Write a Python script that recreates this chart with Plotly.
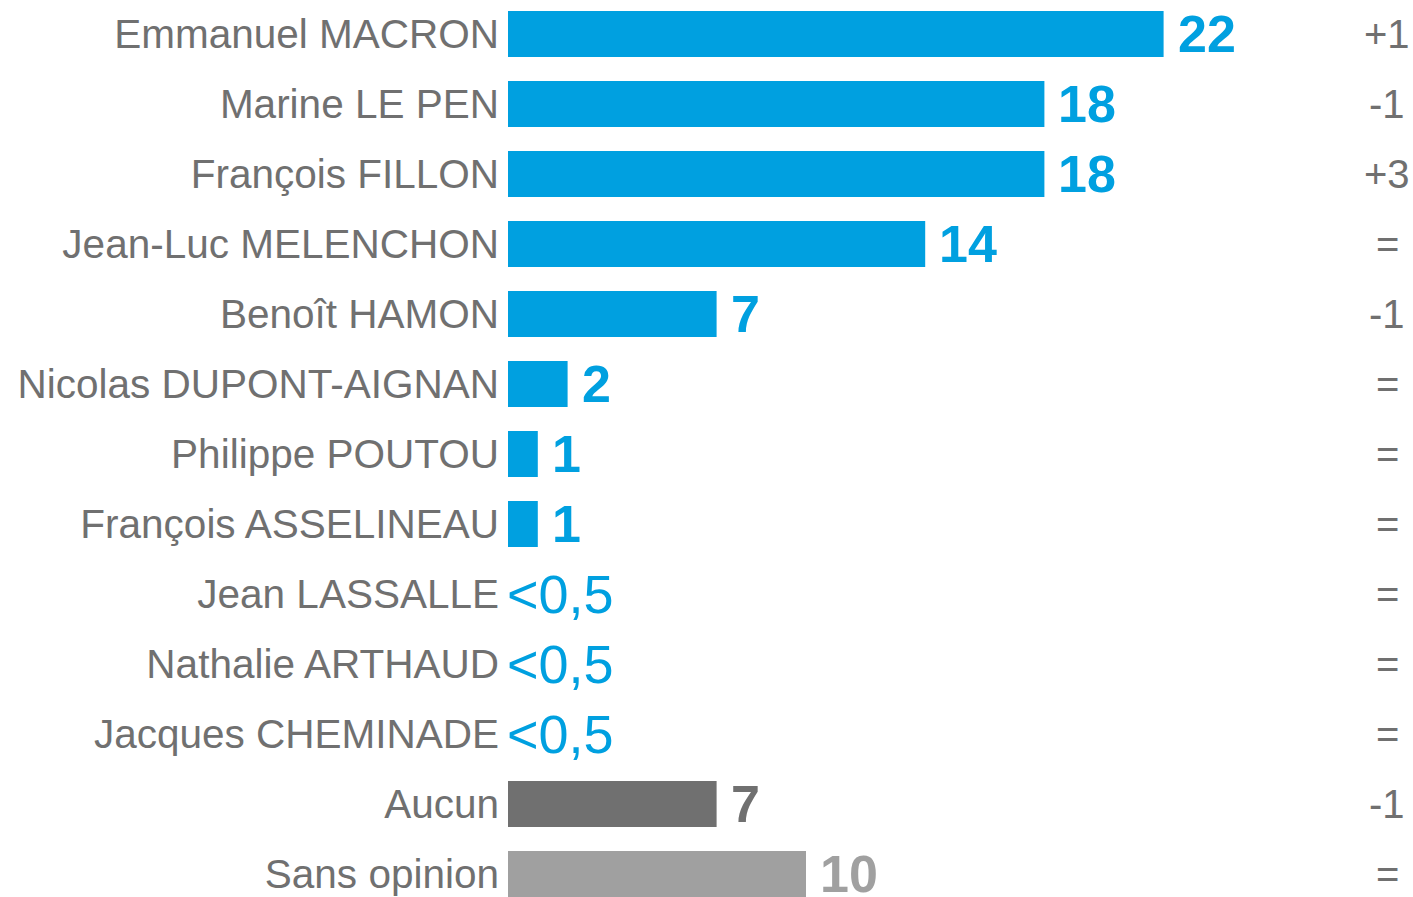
import plotly.graph_objects as go

candidates = ["Emmanuel MACRON", "Marine LE PEN", "François FILLON", "Jean-Luc MELENCHON",
              "Benoît HAMON", "Nicolas DUPONT-AIGNAN", "Philippe POUTOU", "François ASSELINEAU",
              "Jean LASSALLE", "Nathalie ARTHAUD", "Jacques CHEMINADE", "Aucun", "Sans opinion"]
values = [22, 18, 18, 14, 7, 2, 1, 1, 0, 0, 0, 7, 10]
value_labels = ["22", "18", "18", "14", "7", "2", "1", "1", "<0,5", "<0,5", "<0,5", "7", "10"]
changes = ["+1", "-1", "+3", "=", "-1", "=", "=", "=", "=", "=", "=", "-1", "="]

BLUE = "#00A0E0"
DARK = "#707070"
LIGHT = "#A0A0A0"
TEXT = "#707070"
colors = [BLUE] * 11 + [DARK, LIGHT]
FONT = "Liberation Sans, Arial, sans-serif"

W, H = 1413, 897
L = 508
ROW = 70
FIRST = 34
PX_PER_UNIT = 29.8

fig = go.Figure()
fig.add_trace(go.Bar(
    x=values, y=candidates, orientation="h",
    marker=dict(color=colors, line=dict(width=0)),
    width=0.66, hoverinfo="skip",
))

annotations = []
for cand, v, lab, ch, col in zip(candidates, values, value_labels, changes, colors):
    is_small = lab.startswith("<")
    annotations.append(dict(
        x=v, y=cand, xref="x", yref="y", text=lab if is_small else f"<b>{lab}</b>",
        showarrow=False, xanchor="left", yanchor="middle",
        xshift=-3 if is_small else 12,
        font=dict(family=FONT, size=54 if is_small else 52, color=col),
    ))
    annotations.append(dict(
        x=29.5, y=cand, xref="x", yref="y", text=ch,
        showarrow=False, xanchor="center", yanchor="middle",
        font=dict(family=FONT, size=40, color=TEXT),
    ))

fig.update_layout(
    width=W, height=H,
    margin=dict(l=L, r=0, t=0, b=0),
    paper_bgcolor="white", plot_bgcolor="white",
    showlegend=False,
    annotations=annotations,
    xaxis=dict(range=[0, (W - L) / PX_PER_UNIT], visible=False, fixedrange=True),
    yaxis=dict(
        type="category", categoryorder="array", categoryarray=candidates,
        range=[(H - FIRST) / ROW, -FIRST / ROW],
        showgrid=False, zeroline=False, showline=False, ticks="",
        ticklabelstandoff=8, fixedrange=True,
        tickfont=dict(family=FONT, size=40.5, color=TEXT),
    ),
)

fig.write_html(
    "out.html",
    config={"displayModeBar": False, "staticPlot": True},
    post_script="document.body.style.margin='0';document.body.style.padding='0';"
                "document.documentElement.style.overflow='hidden';document.body.style.overflow='hidden';",
)
